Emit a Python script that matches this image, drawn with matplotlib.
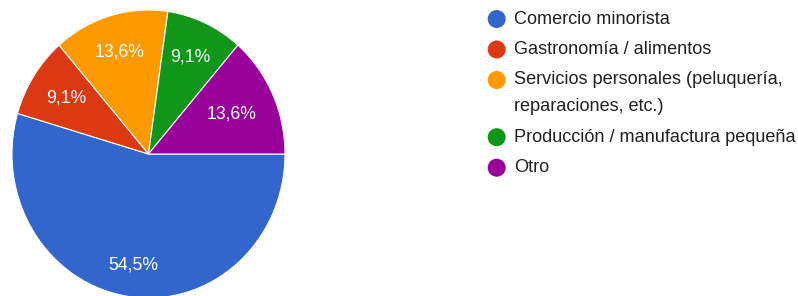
import numpy as np
import matplotlib.pyplot as plt

plt.rcParams["font.family"] = ["Liberation Sans", "DejaVu Sans"]

categories = [
    "Comercio minorista",
    "Gastronomía / alimentos",
    "Servicios personales (peluquería,\nreparaciones, etc.)",
    "Producción / manufactura pequeña",
    "Otro",
]
counts = [12, 2, 3, 2, 3]
colors = ["#3366cc", "#dc3912", "#ff9900", "#109618", "#990099"]
label_radius = [0.78, 0.72, 0.74, 0.74, 0.67]

W, H = 798, 296
fig = plt.figure(figsize=(W / 100, H / 100), dpi=100)

# pie axes (source image is slightly stretched vertically)
cx, cy, rx, ry = 148.5, 154, 136.5, 144
ax = fig.add_axes([(cx - rx) / W, (H - cy - ry) / H, 2 * rx / W, 2 * ry / H])
wedges, texts, autotexts = ax.pie(
    counts, colors=colors, startangle=0, counterclock=False,
    autopct=lambda p: f"{p:.1f}%".replace(".", ","), pctdistance=0.73,
    wedgeprops=dict(edgecolor="white", linewidth=0.8),
    textprops=dict(color="white", fontsize=12.7),
)
ax.set_aspect("auto")
ax.set_xlim(-1, 1)
ax.set_ylim(-1, 1)
for w, t, r in zip(wedges, autotexts, label_radius):
    w.set_clip_on(False)
    mid = np.deg2rad((w.theta1 + w.theta2) / 2)
    t.set_position((r * np.cos(mid), r * np.sin(mid)))

# legend drawn by hand in pixel coordinates
lg = fig.add_axes([0, 0, 1, 1])
lg.set_xlim(0, W)
lg.set_ylim(H, 0)
lg.axis("off")
y = 19
for label, col in zip(categories, colors):
    lg.scatter([496.7], [y], s=168, color=col, edgecolors="none")
    lines = label.split("\n")
    for i, line in enumerate(lines):
        lg.text(514, y + i * 26.7, line, fontsize=13.05, color="#212121", va="center", ha="left")
    y += 30.5 + 26.7 * (len(lines) - 1)

plt.savefig("out.png", dpi=100)
